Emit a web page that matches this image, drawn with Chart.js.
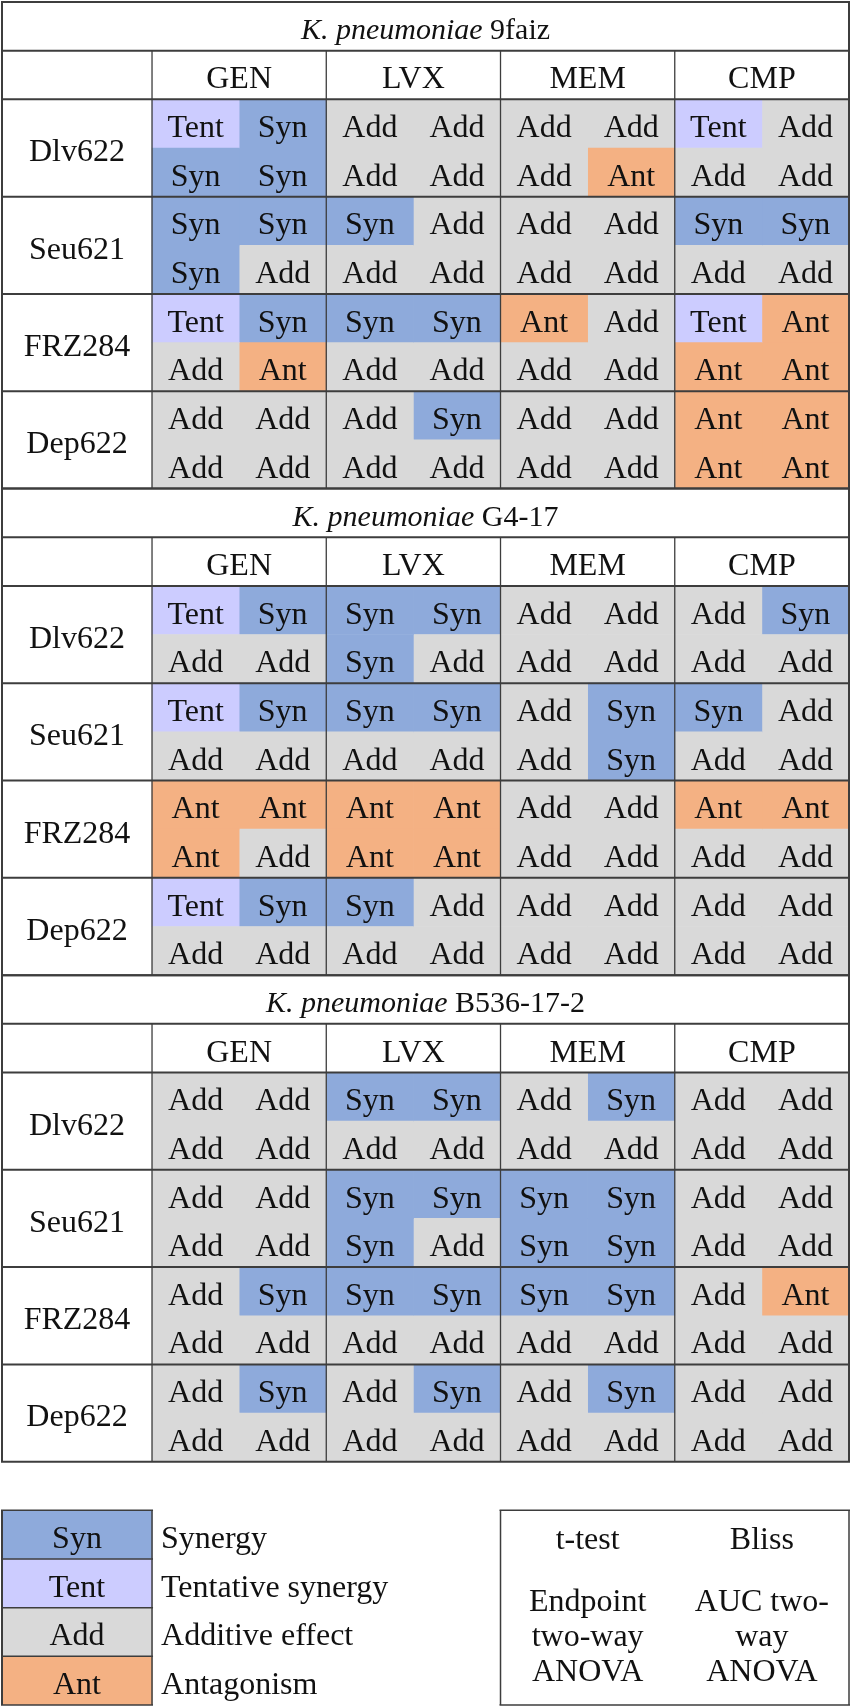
<!DOCTYPE html>
<html lang="en">
<head>
<meta charset="UTF-8">
<title>Drug combination interactions</title>
<script src="https://cdn.jsdelivr.net/npm/chart.js"></script>
<style>
    body { margin: 0; background: #fff; }
    canvas { display: block; }
</style>
</head>
<body>
<canvas id="chart" width="851" height="1707"></canvas>
<script>
const isolates = ['9faiz', 'G4-17', 'B536-17-2'];
const drugs = ['GEN', 'LVX', 'MEM', 'CMP'];
const strains = ['Dlv622', 'Seu621', 'FRZ284', 'Dep622'];

// two rows per phage, two columns per antibiotic
const results9faiz = [
    ['Tent', 'Syn', 'Add', 'Add', 'Add', 'Add', 'Tent', 'Add'],
    ['Syn', 'Syn', 'Add', 'Add', 'Add', 'Ant', 'Add', 'Add'],
    ['Syn', 'Syn', 'Syn', 'Add', 'Add', 'Add', 'Syn', 'Syn'],
    ['Syn', 'Add', 'Add', 'Add', 'Add', 'Add', 'Add', 'Add'],
    ['Tent', 'Syn', 'Syn', 'Syn', 'Ant', 'Add', 'Tent', 'Ant'],
    ['Add', 'Ant', 'Add', 'Add', 'Add', 'Add', 'Ant', 'Ant'],
    ['Add', 'Add', 'Add', 'Syn', 'Add', 'Add', 'Ant', 'Ant'],
    ['Add', 'Add', 'Add', 'Add', 'Add', 'Add', 'Ant', 'Ant']
];
const resultsG417 = [
    ['Tent', 'Syn', 'Syn', 'Syn', 'Add', 'Add', 'Add', 'Syn'],
    ['Add', 'Add', 'Syn', 'Add', 'Add', 'Add', 'Add', 'Add'],
    ['Tent', 'Syn', 'Syn', 'Syn', 'Add', 'Syn', 'Syn', 'Add'],
    ['Add', 'Add', 'Add', 'Add', 'Add', 'Syn', 'Add', 'Add'],
    ['Ant', 'Ant', 'Ant', 'Ant', 'Add', 'Add', 'Ant', 'Ant'],
    ['Ant', 'Add', 'Ant', 'Ant', 'Add', 'Add', 'Add', 'Add'],
    ['Tent', 'Syn', 'Syn', 'Add', 'Add', 'Add', 'Add', 'Add'],
    ['Add', 'Add', 'Add', 'Add', 'Add', 'Add', 'Add', 'Add']
];
const resultsB536 = [
    ['Add', 'Add', 'Syn', 'Syn', 'Add', 'Syn', 'Add', 'Add'],
    ['Add', 'Add', 'Add', 'Add', 'Add', 'Add', 'Add', 'Add'],
    ['Add', 'Add', 'Syn', 'Syn', 'Syn', 'Syn', 'Add', 'Add'],
    ['Add', 'Add', 'Syn', 'Add', 'Syn', 'Syn', 'Add', 'Add'],
    ['Add', 'Syn', 'Syn', 'Syn', 'Syn', 'Syn', 'Add', 'Ant'],
    ['Add', 'Add', 'Add', 'Add', 'Add', 'Add', 'Add', 'Add'],
    ['Add', 'Syn', 'Add', 'Syn', 'Add', 'Syn', 'Add', 'Add'],
    ['Add', 'Add', 'Add', 'Add', 'Add', 'Add', 'Add', 'Add']
];

const legendCodes = ['Syn', 'Tent', 'Add', 'Ant'];
const legendNames = ['Synergy', 'Tentative synergy', 'Additive effect', 'Antagonism'];
const methodHeads = ['t-test', 'Bliss'];
const methodLines = [['Endpoint', 'two-way', 'ANOVA'], ['AUC two-', 'way', 'ANOVA']];

const colours = { Syn: '#8eaadb', Tent: '#ccccff', Add: '#d9d9d9', Ant: '#f4b183' };
const FONT = '"Liberation Serif", "Times New Roman", serif';
const FONT_SIZE = 32;
const TITLE_SIZE = 30;
const TEXT_DY = 5;   // push text down so capitals sit centred in the cell
const LINE = '#3d3d3d';

// layout in scale units: label column, then 8 result columns of width 1
const LABEL_W = 1.722;
const N_COLS = 8;
const ROWS_PER_TABLE = 10;  // title, header, 4 phages x 2
const LEGEND_ROW = 31;
const N_ROWS = 35;

const tables = [results9faiz, resultsG417, resultsB536];
const rowLabels = [];
for (let i = 0; i < N_ROWS; i++) rowLabels.push('row' + i);

const datasets = [];
for (let c = 0; c < N_COLS; c++) {
    const data = rowLabels.map(() => null);
    const codes = rowLabels.map(() => null);
    tables.forEach((tbl, t) => {
        tbl.forEach((row, r) => {
            const idx = t * ROWS_PER_TABLE + 2 + r;
            data[idx] = [LABEL_W + c, LABEL_W + c + 1];
            codes[idx] = row[c];
        });
    });
    datasets.push({ label: 'col' + c, data: data, codes: codes });
}
// legend swatches
const legendData = rowLabels.map(() => null);
const legendCodesByRow = rowLabels.map(() => null);
legendCodes.forEach((code, i) => {
    legendData[LEGEND_ROW + i] = [0, LABEL_W];
    legendCodesByRow[LEGEND_ROW + i] = code;
});
datasets.push({ label: 'legend', data: legendData, codes: legendCodesByRow });

datasets.forEach(ds => {
    ds.backgroundColor = ctx => colours[ctx.dataset.codes[ctx.dataIndex]] || '#fff';
    ds.borderWidth = 0;
    ds.barPercentage = 1;
    ds.categoryPercentage = 1;
    ds.grouped = false;
});

const tablePlugin = {
    id: 'tableText',
    afterDatasetsDraw(chart) {
        const ctx = chart.ctx;
        const xs = chart.scales.x;
        const ys = chart.scales.y;
        const band = ys.getPixelForValue(1) - ys.getPixelForValue(0);
        const px = v => xs.getPixelForValue(v);
        const mid = r => ys.getPixelForValue(r);
        const top = r => ys.getPixelForValue(r) - band / 2;
        const font = (style, size) => (style ? style + ' ' : '') + (size || FONT_SIZE) + 'px ' + FONT;
        const right = LABEL_W + N_COLS;

        ctx.save();
        ctx.fillStyle = '#111';
        ctx.textBaseline = 'middle';
        ctx.textAlign = 'center';
        ctx.font = font();

        // cell codes
        chart.data.datasets.forEach((ds, i) => {
            chart.getDatasetMeta(i).data.forEach((el, j) => {
                const code = ds.codes[j];
                if (!code) return;
                ctx.fillText(code, (el.x + el.base) / 2, el.y + TEXT_DY);
            });
        });

        tables.forEach((tbl, t) => {
            const base = t * ROWS_PER_TABLE;
            // title: italic species + isolate
            const sp = 'K. pneumoniae ';
            ctx.font = font('italic', TITLE_SIZE);
            const w1 = ctx.measureText(sp).width;
            ctx.font = font('', TITLE_SIZE);
            const w2 = ctx.measureText(isolates[t]).width;
            const x0 = px(right / 2) - (w1 + w2) / 2;
            ctx.textAlign = 'left';
            ctx.font = font('italic', TITLE_SIZE);
            ctx.fillText(sp, x0, mid(base) + TEXT_DY);
            ctx.font = font('', TITLE_SIZE);
            ctx.fillText(isolates[t], x0 + w1, mid(base) + TEXT_DY);
            ctx.textAlign = 'center';
            ctx.font = font();
            drugs.forEach((d, k) => ctx.fillText(d, px(LABEL_W + 2 * k + 1), mid(base + 1) + TEXT_DY));
            strains.forEach((s, k) => {
                const r = base + 2 + 2 * k;
                ctx.fillText(s, px(LABEL_W / 2), top(r + 1) + TEXT_DY);
            });
        });

        // legend labels
        ctx.textAlign = 'left';
        legendNames.forEach((n, i) => ctx.fillText(n, px(LABEL_W) + 9, mid(LEGEND_ROW + i) + TEXT_DY));

        // methods box
        ctx.textAlign = 'center';
        methodHeads.forEach((h, k) => {
            const cx = px(LABEL_W + 5 + 2 * k);
            ctx.fillText(h, cx, mid(LEGEND_ROW) + 6);
            methodLines[k].forEach((ln, j) => ctx.fillText(ln, cx, mid(LEGEND_ROW + 2) + 6 + (j - 1) * 35));
        });

        // rules
        ctx.strokeStyle = LINE;
        const hline = (r, a, b, w) => {
            ctx.lineWidth = w;
            ctx.beginPath();
            ctx.moveTo(px(a) - 1, top(r));
            ctx.lineTo(px(b) + 1, top(r));
            ctx.stroke();
        };
        const vline = (v, r0, r1, w) => {
            ctx.lineWidth = w;
            ctx.beginPath();
            ctx.moveTo(px(v), top(r0));
            ctx.lineTo(px(v), top(r1));
            ctx.stroke();
        };
        tables.forEach((tbl, t) => {
            const base = t * ROWS_PER_TABLE;
            [0, 1, 2, 4, 6, 8, 10].forEach(r => hline(base + r, 0, right, 2));
            vline(0, base, base + 10, 2);
            vline(right, base, base + 10, 2);
            for (let k = 0; k < drugs.length; k++) vline(LABEL_W + 2 * k, base + 1, base + 10, 1.3);
        });
        for (let i = 0; i <= legendCodes.length; i++) hline(LEGEND_ROW + i, 0, LABEL_W, 1.5);
        vline(0, LEGEND_ROW, LEGEND_ROW + 4, 2);
        vline(LABEL_W, LEGEND_ROW, LEGEND_ROW + 4, 1.5);
        hline(LEGEND_ROW, LABEL_W + 4, right, 1.5);
        hline(LEGEND_ROW + 4, LABEL_W + 4, right, 1.5);
        vline(LABEL_W + 4, LEGEND_ROW, LEGEND_ROW + 4, 1.5);
        vline(right, LEGEND_ROW, LEGEND_ROW + 4, 1.5);
        ctx.restore();
    }
};

new Chart(document.getElementById('chart'), {
    type: 'bar',
    data: { labels: rowLabels, datasets: datasets },
    options: {
        indexAxis: 'y',
        responsive: false,
        animation: false,
        devicePixelRatio: 1,
        layout: { padding: { left: 2, right: 2, top: 2, bottom: 2 } },
        scales: {
            x: { type: 'linear', min: 0, max: LABEL_W + N_COLS, display: false },
            y: { type: 'category', display: false }
        },
        plugins: {
            legend: { display: false },
            tooltip: { enabled: false }
        }
    },
    plugins: [tablePlugin]
});
</script>
</body>
</html>
